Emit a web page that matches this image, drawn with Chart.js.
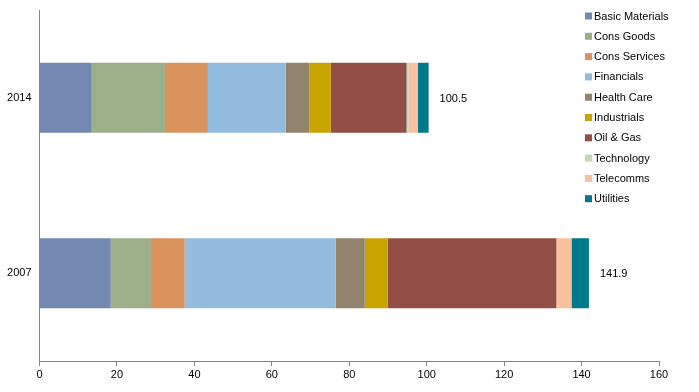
<!DOCTYPE html>
<html>
<head>
<meta charset="utf-8">
<script src="https://cdn.jsdelivr.net/npm/chart.js@4/dist/chart.umd.min.js"></script>
<style>
html,body{margin:0;padding:0;background:#fff;}
#wrap{width:699px;height:392px;position:relative;}
</style>
</head>
<body>
<div id="wrap"><canvas id="c" width="699" height="392"></canvas></div>
<script>
const categories = ["2014", "2007"];
const sectors = ["Basic Materials","Cons Goods","Cons Services","Financials","Health Care","Industrials","Oil & Gas","Technology","Telecomms","Utilities"];
const colors = ["#7389B1","#9CAF88","#DB935E","#92BBDD","#92836D","#C8A400","#934F47","#C8D6BC","#F9C09E","#007A8A"];
const basicMaterials = [13.5, 18.4];
const consGoods      = [18.9, 10.4];
const consServices   = [11.1, 8.7];
const financials     = [20.1, 39.0];
const healthCare     = [6.1, 7.5];
const industrials    = [5.5, 5.9];
const oilGas         = [19.6, 43.6];
const technology     = [0.6, 0.0];
const telecomms      = [2.3, 3.9];
const utilities      = [2.8, 4.5];
const totals         = [100.5, 141.9];
const xTicks         = [0, 20, 40, 60, 80, 100, 120, 140, 160];

const seriesValues = [basicMaterials, consGoods, consServices, financials, healthCare, industrials, oilGas, technology, telecomms, utilities];
const FONT = "'Liberation Sans', Arial, sans-serif";

const totalsPlugin = {
  id: 'totals',
  afterDatasetsDraw(chart) {
    const ctx = chart.ctx;
    const last = chart.getDatasetMeta(chart.data.datasets.length - 1);
    ctx.save();
    ctx.font = "11px " + FONT;
    ctx.fillStyle = "#000";
    ctx.textAlign = "left";
    ctx.textBaseline = "middle";
    last.data.forEach((bar, i) => {
      ctx.fillText(totals[i].toFixed(1), bar.x + 11, bar.y + 1);
    });
    ctx.restore();
  }
};

const legendPlugin = {
  id: 'customLegend',
  afterDraw(chart) {
    const ctx = chart.ctx;
    ctx.save();
    ctx.font = "11px " + FONT;
    ctx.textBaseline = "middle";
    ctx.textAlign = "left";
    chart.data.datasets.forEach((ds, i) => {
      const y = 16 + i * 20.3;
      ctx.fillStyle = ds.backgroundColor;
      ctx.fillRect(585, y - 3.5, 7, 7);
      ctx.fillStyle = "#000";
      ctx.fillText(ds.label, 594, y + 0.5);
    });
    ctx.restore();
  }
};

new Chart(document.getElementById('c'), {
  type: 'bar',
  data: {
    labels: categories,
    datasets: sectors.map((s, i) => ({
      label: s,
      data: seriesValues[i],
      backgroundColor: colors[i],
      borderWidth: 0,
      barPercentage: 0.4,
      categoryPercentage: 1.0
    }))
  },
  options: {
    indexAxis: 'y',
    responsive: false,
    animation: false,
    devicePixelRatio: 1,
    layout: { padding: { top: 10, right: 40, bottom: 0, left: 0 } },
    plugins: { legend: { display: false }, tooltip: { enabled: false } },
    scales: {
      x: {
        stacked: true,
        min: 0, max: 160,
        afterBuildTicks(scale) { scale.ticks = xTicks.map(v => ({ value: v })); },
        afterFit(scale) { scale.height = 31; scale.paddingLeft = 0; scale.paddingRight = 0; },
        grid: { display: true, drawOnChartArea: false, drawTicks: true, tickLength: 5, color: '#868686' },
        border: { display: true, color: '#868686', width: 1 },
        ticks: { color: '#000', font: { family: FONT, size: 11 }, padding: 2, maxRotation: 0 }
      },
      y: {
        stacked: true,
        afterFit(scale) { scale.width = 39.5; scale.paddingTop = 0; scale.paddingBottom = 0; },
        grid: { display: false, drawTicks: false },
        border: { display: true, color: '#868686', width: 1 },
        ticks: { color: '#000', font: { family: FONT, size: 11 }, padding: 8 }
      }
    }
  },
  plugins: [totalsPlugin, legendPlugin]
});
</script>
</body>
</html>
